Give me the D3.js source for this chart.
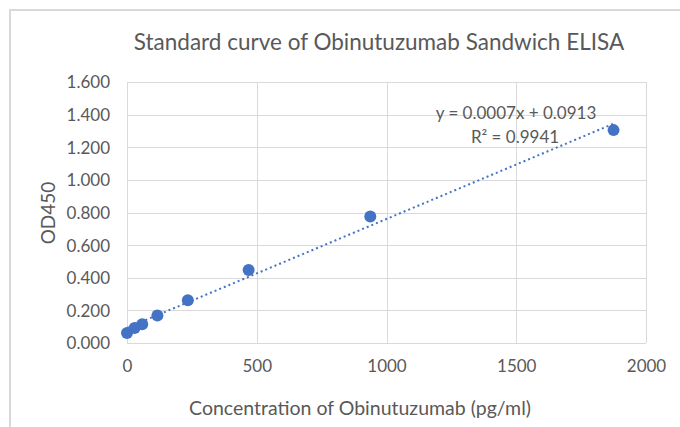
<!DOCTYPE html>
<html><head><meta charset="utf-8">
<script src="https://cdn.jsdelivr.net/npm/d3@7"></script>
<style>body{margin:0;background:#fff;}svg{display:block;}</style>
</head><body>
<script>
const concentrations = [0, 29.3, 58.6, 117.2, 234.4, 468.75, 937.5, 1875];
const od450 = [0.061, 0.092, 0.115, 0.168, 0.262, 0.448, 0.775, 1.305];
const xTicks = [0, 500, 1000, 1500, 2000];
const yTicks = [0, 0.2, 0.4, 0.6, 0.8, 1.0, 1.2, 1.4, 1.6];
const titleText = "Standard curve of Obinutuzumab Sandwich ELISA";
const xTitle = "Concentration of Obinutuzumab (pg/ml)";
const yTitle = "OD450";
const eqText = "y = 0.0007x + 0.0913";
const r2Text = "R² = 0.9941";

const W = 680, H = 427;
const font = "Lato, 'Open Sans', sans-serif";
const textColor = "#595959";
const gridColor = "#d9d9d9";
const blue = "#4472c4";

const svg = d3.select("body").append("svg").attr("width", W).attr("height", H);
svg.append("rect").attr("width", W).attr("height", H).attr("fill", "#fff");
// outer chart border (cropped)
svg.append("path").attr("d", "M10,427 V10 H680").attr("fill", "none").attr("stroke", gridColor).attr("stroke-width", 2);

const x = d3.scaleLinear().domain([0, 2000]).range([127, 646]);
const y = d3.scaleLinear().domain([0, 1.6]).range([343, 82]);

// gridlines
svg.append("g").selectAll("line").data(yTicks).join("line")
  .attr("x1", x(0)).attr("x2", x(2000)).attr("y1", d => Math.round(y(d)) + 0.5).attr("y2", d => Math.round(y(d)) + 0.5)
  .attr("stroke", gridColor).attr("stroke-width", 1);
svg.append("g").selectAll("line").data(xTicks).join("line")
  .attr("y1", y(0)).attr("y2", y(1.6)).attr("x1", d => Math.round(x(d)) + 0.5).attr("x2", d => Math.round(x(d)) + 0.5)
  .attr("stroke", gridColor).attr("stroke-width", 1);

// axes labels via d3 axes
const xAxis = svg.append("g").attr("transform", `translate(0,${y(0)})`)
  .call(d3.axisBottom(x).tickValues(xTicks).tickSize(0).tickPadding(17).tickFormat(d3.format("d")));
const yAxis = svg.append("g").attr("transform", `translate(${x(0)},0)`)
  .call(d3.axisLeft(y).tickValues(yTicks).tickSize(0).tickPadding(17).tickFormat(d3.format(".3f")));
[xAxis, yAxis].forEach(g => {
  g.select(".domain").remove();
  g.selectAll("text").attr("fill", textColor).attr("font-family", font).attr("font-size", 17);
});
yAxis.selectAll("text").attr("dy", "0.35em");

// trendline: least squares
const mx = d3.mean(concentrations), my = d3.mean(od450);
const slope = d3.sum(concentrations.map((c, i) => (c - mx) * (od450[i] - my))) / d3.sum(concentrations.map(c => (c - mx) ** 2));
const icpt = my - slope * mx;
const xs = [0, d3.max(concentrations)];
svg.append("line")
  .attr("x1", x(xs[0])).attr("y1", y(icpt + slope * xs[0]))
  .attr("x2", x(xs[1])).attr("y2", y(icpt + slope * xs[1]))
  .attr("stroke", blue).attr("stroke-width", 2).attr("stroke-dasharray", "2,3");

// points
svg.append("g").selectAll("circle").data(concentrations.map((c, i) => [c, od450[i]])).join("circle")
  .attr("cx", d => x(d[0])).attr("cy", d => y(d[1])).attr("r", 6).attr("fill", blue);

// title
svg.append("text").attr("x", 379).attr("y", 50).attr("text-anchor", "middle")
  .attr("font-family", font).attr("font-size", 22.5).attr("fill", textColor).text(titleText);
// x title
svg.append("text").attr("x", 360).attr("y", 415).attr("text-anchor", "middle")
  .attr("font-family", font).attr("font-size", 19.5).attr("fill", textColor).text(xTitle);
// y title
svg.append("text").attr("transform", "translate(55,213) rotate(-90)").attr("text-anchor", "middle")
  .attr("font-family", font).attr("font-size", 19).attr("fill", textColor).text(yTitle);
// equation
svg.append("text").attr("x", 516).attr("y", 119).attr("text-anchor", "middle")
  .attr("font-family", font).attr("font-size", 17).attr("fill", textColor).text(eqText);
svg.append("text").attr("x", 515).attr("y", 143).attr("text-anchor", "middle")
  .attr("font-family", font).attr("font-size", 17).attr("fill", textColor).text(r2Text);
</script>
</body></html>
